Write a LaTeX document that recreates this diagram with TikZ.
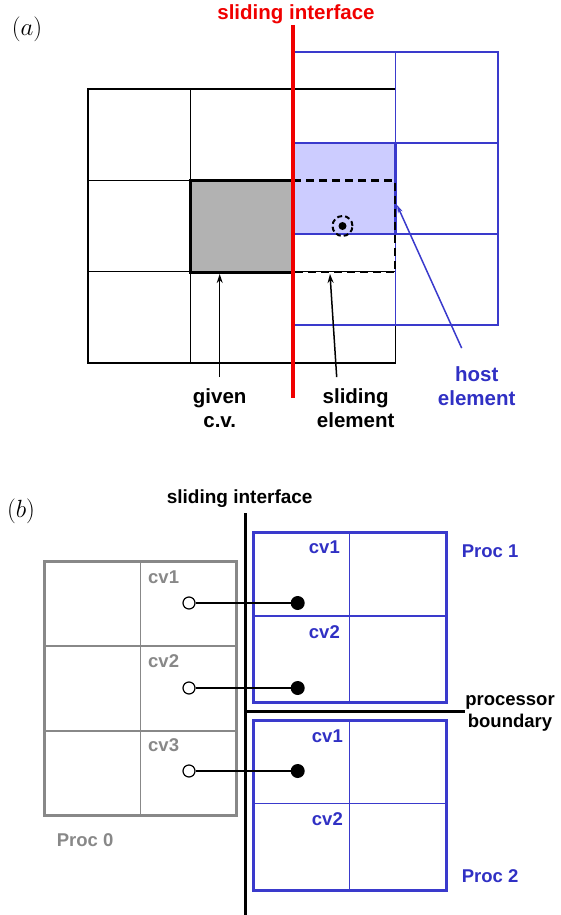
\documentclass[tikz,border=0pt]{standalone}
\usepackage[no-math]{fontspec}
\setmainfont{Liberation Sans}
\usetikzlibrary{arrows.meta, positioning}
\definecolor{meshblue}{RGB}{58,58,204}
\definecolor{textblue}{RGB}{48,48,196}
\definecolor{hostfill}{RGB}{204,204,255}
\definecolor{cvfill}{RGB}{178,178,178}
\definecolor{procgray}{RGB}{136,136,136}
\definecolor{ifacered}{RGB}{240,0,0}

\begin{document}
\begin{tikzpicture}[
  x=1pt, y=-1pt,
  txta/.style={font=\fontsize{20.5}{24}\selectfont\bfseries, align=center, inner sep=0pt, anchor=base},
  txtb/.style={font=\fontsize{18.5}{22}\selectfont\bfseries, align=center, inner sep=0pt},
  tag/.style={font=\fontsize{25}{28}\selectfont, inner sep=0pt},
  arrow/.style={-{Stealth[length=9pt, width=6pt]}, line width=1.5pt},
  ghost/.style={circle, draw=black, fill=white, line width=1.2pt, minimum size=12pt, inner sep=0pt},
  donor/.style={circle, fill=black, minimum size=14pt, inner sep=0pt}
]
\useasboundingbox (0,0) rectangle (560,915);

% (a) sliding element and host element
\node[tag] (taga) at (27,29) {$(a)$};

% fixed mesh left of the interface
\foreach \i in {0,1,2}
  \foreach \j in {0,1,2}
    \draw[line width=1.4pt] (88+102.5*\i, 89+91.3*\j) rectangle ++(102.5, 91.3);

% sliding mesh right of the interface
\foreach \i in {0,1}
  \foreach \j in {0,1,2}
    \draw[meshblue, line width=1.3pt] (293+102.5*\i, 52+91*\j) rectangle ++(102.5, 91);

% host element and given c.v.
\draw[meshblue, line width=2.5pt, fill=hostfill] (293,143) rectangle (395.5,234);
\draw[line width=3pt, fill=cvfill] (190.5,180.5) rectangle (293,272);
\draw[line width=2.5pt, dash pattern=on 8pt off 5pt] (293,180.5) -- (395,180.5) -- (395,272) -- (293,272);

% interface
\coordinate (ifatop) at (293,25);
\coordinate (ifabot) at (293,398);
\draw[ifacered, line width=4.5pt] (ifatop) -- (ifabot);
\node[txta, text=ifacered] (sifa) at (296,20) {sliding interface};

% integration point
\draw[line width=2pt, dash pattern=on 5pt off 3pt] (342.5,226) circle (10pt);
\fill (342.5,226) circle (4pt);

% labels and arrows
\node[txta, outer sep=11pt] (given) at (219.7,427) {given\\c.v.};
\node[txta, outer sep=11pt] (slide) at (355.7,427) {sliding\\element};
\node[txta, text=textblue, outer sep=18pt] (host) at (476.7,405) {host\\element};
\coordinate (givtip) at (219.7,274);
\coordinate (sldtip) at (330,274);
\coordinate (hsttip) at (397,205);
\draw[arrow] (given.north) -- (givtip);
\draw[arrow] ([xshift=-19pt]slide.north) -- (sldtip);
\draw[meshblue, line width=1.5pt, -{Stealth[length=8pt, width=5pt]}] ([xshift=-15pt]host.north) -- (hsttip);

% (b) parallel search across processors
\node[tag] (tagb) at (21,511) {$(b)$};
\node[txtb, anchor=base, font=\fontsize{19}{22}\selectfont\bfseries] (sifb) at (239.7,503) {sliding interface};

% processor 0
\draw[procgray, line width=3pt] (44.3,561) rectangle (236.7,815.7);
\draw[procgray, line width=1.5pt] (140.3,561) -- (140.3,815.7)
  (44.3,645.9) -- (236.7,645.9) (44.3,730.8) -- (236.7,730.8);

% processors 1 and 2
\foreach \y in {532.7, 720} {
  \draw[meshblue, line width=3pt] (253,\y) rectangle ++(193,170);
  \draw[meshblue, line width=1.5pt] (349.5,\y) -- ++(0,170) (253,\y+83.5) -- ++(193,0);
}

% interface and processor boundary
\coordinate (ifbtop) at (245.7,513);
\coordinate (ifbbot) at (245.7,915);
\coordinate (ifbmid) at (245.7,711.5);
\draw[line width=3pt] (ifbtop) -- (ifbbot);
\node[txtb, anchor=base] (pbnd) at (510,727) {processor\\boundary};
\draw[line width=2.5pt] (ifbmid) -- (ifbmid -| pbnd.west);

% control volume labels
\node[txtb, anchor=base west, text=procgray] (gcv1) at (148,583) {cv1};
\node[txtb, anchor=base west, text=procgray] (gcv2) at (148,667) {cv2};
\node[txtb, anchor=base west, text=procgray] (gcv3) at (148,751) {cv3};
\node[txtb, anchor=base east, text=textblue] (acv1) at (340,553) {cv1};
\node[txtb, anchor=base east, text=textblue] (acv2) at (340,638) {cv2};
\node[txtb, anchor=base east, text=textblue] (bcv1) at (343,742) {cv1};
\node[txtb, anchor=base east, text=textblue] (bcv2) at (343,825) {cv2};

\node[txtb, anchor=base west, text=procgray] (proc0) at (56.7,846.7) {Proc 0};
\node[txtb, anchor=base west, text=textblue] (proc1) at (461.7,557) {Proc 1};
\node[txtb, anchor=base west, text=textblue] (proc2) at (461.7,882) {Proc 2};

% ghost points and their donors
\foreach \n/\y in {1/603, 2/688, 3/771} {
  \node[ghost] (gpt\n) at (189,\y) {};
  \node[donor] (dpt\n) at (297.7,\y) {};
  \draw[line width=1.3pt] (gpt\n) -- (dpt\n);
}

\end{tikzpicture}
\end{document}
